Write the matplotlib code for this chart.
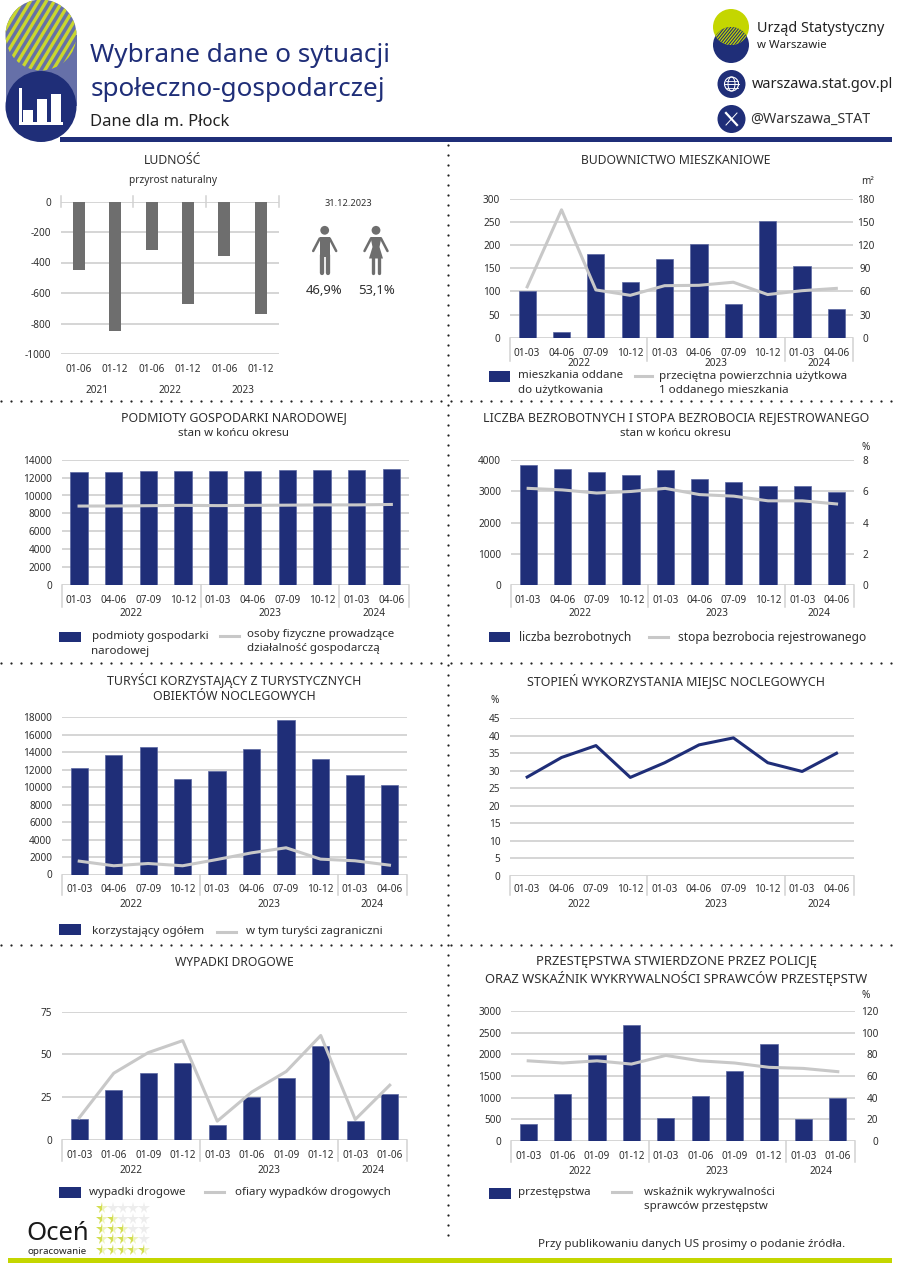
import numpy as np
import matplotlib
matplotlib.use("Agg")
import matplotlib.pyplot as plt
from matplotlib.patches import Circle, Rectangle, Polygon, Ellipse

plt.rcParams['font.family'] = ['Noto Sans', 'DejaVu Sans']
plt.rcParams['axes.unicode_minus'] = False

W, H = 900, 1273
NAVY = '#1F2E78'
EDGE = '#5A66A0'
GRID = '#D2D2D2'
LINE = '#C8C8C8'
TXT = '#2E2E2E'
LIME = '#C4D600'
GRAY = '#6E6E6E'

q_labels = ['01-03', '04-06', '07-09', '10-12', '01-03', '04-06', '07-09', '10-12', '01-03', '04-06']
cum_labels = ['01-03', '01-06', '01-09', '01-12', '01-03', '01-06', '01-09', '01-12', '01-03', '01-06']
half_labels = ['01-06', '01-12', '01-06', '01-12', '01-06', '01-12']
years_q = ['2022', '2023', '2024']
years_h = ['2021', '2022', '2023']

natural_increase = [-450, -850, -320, -675, -360, -740]
dwellings = [100, 13, 182, 120, 171, 203, 72, 252, 155, 62]
dwelling_area = [66, 166, 62, 55, 67.5, 68, 72, 56, 61, 64]
entities = [12600, 12650, 12700, 12750, 12750, 12780, 12800, 12850, 12900, 12950]
sole_traders = [8820, 8830, 8860, 8900, 8870, 8900, 8920, 8950, 8950, 9000]
unemployed = [3840, 3720, 3640, 3540, 3680, 3390, 3310, 3170, 3170, 2990]
unemp_rate = [6.2, 6.1, 5.9, 6.0, 6.2, 5.8, 5.7, 5.4, 5.4, 5.2]
tourists = [12150, 13700, 14650, 10900, 11900, 14350, 17700, 13200, 11400, 10250]
foreign = [1530, 1000, 1260, 1000, 1720, 2480, 3060, 1760, 1570, 1070]
occupancy = [28.2, 33.8, 37.2, 28.1, 32.3, 37.4, 39.4, 32.3, 29.8, 35.0]
accidents = [12, 29, 39, 45, 9, 25, 36, 55, 11, 27]
victims = [13, 39, 51, 58, 11, 28, 40, 61, 12, 32]
crimes = [390, 1075, 1975, 2670, 530, 1050, 1610, 2230, 515, 985]
detection = [74, 72, 74, 71, 79, 74, 72, 68, 67, 64]

fig = plt.figure(figsize=(W / 100, H / 100), dpi=100, facecolor='white')
bg = fig.add_axes([0, 0, 1, 1], zorder=0)
bg.set_xlim(0, W)
bg.set_ylim(H, 0)
bg.axis('off')


def text(x, y, s, size=8, ha='left', va='center', color=TXT, **kw):
    return bg.text(x, y, s, fontsize=size, ha=ha, va=va, color=color, **kw)


def panel(x0, x1, ytop, y0, n, xlabels, ylim, yticks, bars=None, line=None, line_right=None,
          right_ylim=None, right_ticks=None, groups=(4, 8), years=years_q,
          label_gap=14, year_gap=29, sep_depth=21, right_ha='center', right_off=12,
          line_color=LINE, line_lw=2.2):
    ax = fig.add_axes([x0 / W, 1 - y0 / H, (x1 - x0) / W, (y0 - ytop) / H], zorder=2)
    ax.patch.set_alpha(0)
    x = np.arange(n)
    ax.set_xlim(-0.5, n - 0.5)
    ax.set_ylim(*ylim)
    ax.set_yticks(yticks)
    ax.tick_params(axis='y', length=0, labelsize=7.2, labelcolor=TXT, pad=7)
    ax.set_xticks(x, xlabels)
    ax.tick_params(axis='x', length=0, labelsize=7.2, labelcolor=TXT, pad=(label_gap - 4) * 0.72)
    for s in ax.spines.values():
        s.set_visible(False)
    ax.grid(axis='y', color=GRID, lw=1.3, zorder=1)
    ax.set_axisbelow(True)
    if bars is not None:
        ax.bar(x, bars, width=0.5, color=NAVY, edgecolor=EDGE, lw=0.5, zorder=3)
    if line is not None:
        ax.plot(x, line, color=line_color, lw=line_lw, zorder=4, solid_joinstyle='round')
    h = y0 - ytop
    edges = [-0.5] + [g - 0.5 for g in groups] + [n - 0.5]
    tr = ax.get_xaxis_transform()
    for e in edges:
        ax.plot([e, e], [0, -sep_depth / h], transform=tr, color=GRID, lw=1.1, clip_on=False, zorder=1)
    for i, y in enumerate(years):
        c = (edges[i] + edges[i + 1]) / 2
        ax.text(c, -year_gap / h, y, transform=tr, ha='center', va='center', fontsize=7.2, color=TXT)
    if right_ticks is not None:
        r = ax.twinx()
        r.patch.set_alpha(0)
        r.set_zorder(ax.get_zorder() + 1)
        r.set_ylim(*right_ylim)
        r.set_yticks(right_ticks)
        r.tick_params(axis='y', length=0, labelsize=7.2, labelcolor=TXT, pad=right_off * 0.72)
        for lab in r.get_yticklabels():
            lab.set_ha(right_ha)
        for s in r.spines.values():
            s.set_visible(False)
        if line_right is not None:
            r.plot(x, line_right, color=line_color, lw=line_lw, zorder=4, solid_joinstyle='round')
    return ax


# ---------- dotted separators ----------
for yy in (401, 663, 945):
    xs = np.arange(1, 900, 10)
    bg.plot(xs, np.full_like(xs, yy), 'o', ms=1.6, color='#222222', mew=0)
ys = np.arange(145, 1240, 10)
bg.plot(np.full_like(ys, 448), ys, 'o', ms=1.6, color='#222222', mew=0)

# ---------- header ----------
PILL = '#6670A8'
bg.add_patch(Rectangle((5.5, 35), 71, 71, color=PILL, lw=0, zorder=1))
bg.add_patch(Circle((41, 35), 35.5, color=PILL, lw=0, zorder=1))
clip_top = Circle((41, 35), 35.5, transform=bg.transData)
for c in np.arange(-30, 130, 8):
    l, = bg.plot([c - 30, c + 30], [85, -15], color='#C9D72E', lw=2.4, zorder=2, solid_capstyle='butt')
    l.set_clip_path(clip_top)
bg.add_patch(Circle((41, 106.5), 35.5, color=NAVY, lw=0, zorder=3))
bg.add_patch(Rectangle((23, 110), 10, 13, color='white', lw=0, zorder=4))
bg.add_patch(Rectangle((37, 99), 10, 24, color='white', lw=0, zorder=4))
bg.add_patch(Rectangle((51, 94), 10, 29, color='white', lw=0, zorder=4))
bg.add_patch(Rectangle((19, 88), 3, 36, color='white', lw=0, zorder=4))
bg.add_patch(Rectangle((19, 122), 44, 2.5, color='white', lw=0, zorder=4))
bg.add_patch(Rectangle((60, 137), 832, 4.5, color=NAVY, lw=0, zorder=2))

text(90.5, 56, 'Wybrane dane o sytuacji', size=18.8, color=NAVY)
text(90.5, 89, 'społeczno-gospodarczej', size=18.8, color=NAVY)
text(90, 122, 'Dane dla m. Płock', size=12, color='#222222')

# logo: two circles, hatched overlap
bg.add_patch(Circle((731, 45), 18, color=NAVY, lw=0, zorder=1))
bg.add_patch(Circle((731, 27), 18, color=LIME, lw=0, zorder=2))
half = np.sqrt(18 ** 2 - 9 ** 2)
t = np.linspace(-half, half, 40)
lens = np.vstack([np.column_stack([731 + t, 45 - np.sqrt(18 ** 2 - t ** 2)]),
                  np.column_stack([731 + t[::-1], 27 + np.sqrt(18 ** 2 - t[::-1] ** 2)])])
lens_patch = Polygon(lens, closed=True, color=NAVY, lw=0, zorder=3)
bg.add_patch(lens_patch)
lens_clip = Polygon(lens, closed=True, transform=bg.transData)
for c in np.arange(690, 780, 3):
    l, = bg.plot([c, c + 24], [50, 20], color=LIME, lw=0.9, zorder=4, solid_capstyle='butt')
    l.set_clip_path(lens_clip)
text(757, 29, 'Urząd Statystyczny', size=10.4, color='#222222')
text(757, 46, 'w Warszawie', size=8.2, color='#222222')

bg.add_patch(Circle((731.5, 84), 14, color=NAVY, lw=0))
bg.add_patch(Circle((731.5, 84), 7, fill=False, ec='white', lw=0.8, zorder=3))
bg.add_patch(Ellipse((731.5, 84), 7, 14, fill=False, ec='white', lw=0.7, zorder=3))
bg.plot([724.5, 738.5], [84, 84], color='white', lw=0.7, zorder=3)
bg.plot([725.5, 737.5], [80.5, 80.5], color='white', lw=0.6, zorder=3)
bg.plot([725.5, 737.5], [87.5, 87.5], color='white', lw=0.6, zorder=3)
text(752, 85, 'warszawa.stat.gov.pl', size=10.45, color='#222222')
bg.add_patch(Circle((731.5, 119), 14, color=NAVY, lw=0))
bg.plot([726, 737], [113, 125], color='white', lw=1.6, zorder=3)
bg.plot([737, 726], [113, 125], color='white', lw=0.7, zorder=3)
text(750, 119, '@Warszawa_STAT', size=10.3, color='#333333')

# ---------- ludność ----------
ax = panel(60.5, 279, 201.5, 354, 6, half_labels, (-1000, 0), [0, -200, -400, -600, -800, -1000],
           groups=(2, 4), years=[], sep_depth=0, label_gap=14.5)
ax.bar(np.arange(6), natural_increase, width=0.33, color=GRAY, zorder=3)
h = 354 - 201.5
tr = ax.get_xaxis_transform()
for e in (-0.5, 1.5, 3.5, 5.5):
    ax.plot([e, e], [1 - 5.5 / h, 1 + 5.5 / h], transform=tr, color=GRID, lw=1.1, clip_on=False, zorder=2)
for c, y in zip((0.5, 2.5, 4.5), years_h):
    ax.text(c, -36.5 / h, y, transform=tr, ha='center', va='center', fontsize=7.2, color=TXT)
text(173, 161, 'LUDNOŚĆ', size=8.8, ha='center')
text(173, 181, 'przyrost naturalny', size=7.3, ha='center')
text(348.7, 204, '31.12.2023', size=6.6, ha='center')
text(324.3, 291, '46,9%', size=9.4, ha='center')
text(376.5, 291, '53,1%', size=9.4, ha='center')


def person(cx, female=False):
    c = GRAY
    bg.add_patch(Circle((cx, 230.3), 4.4, color=c, lw=0))
    bg.plot([cx - 11.5, cx - 5], [251, 238.5], color=c, lw=1.8, solid_capstyle='round')
    bg.plot([cx + 11.5, cx + 5], [251, 238.5], color=c, lw=1.8, solid_capstyle='round')
    if female:
        bg.add_patch(Polygon([[cx - 5.5, 237], [cx + 5.5, 237], [cx + 3.5, 247], [cx + 7, 258.5],
                              [cx - 7, 258.5], [cx - 3.5, 247]], closed=True, color=c, lw=0))
        for d in (-3.3, 3.3):
            bg.plot([cx + d, cx + d], [257, 272.5], color=c, lw=2.4, solid_capstyle='round')
    else:
        bg.add_patch(Rectangle((cx - 5, 237), 10, 20, color=c, lw=0))
        for d in (-2.8, 2.8):
            bg.plot([cx + d, cx + d], [255, 273], color=c, lw=3.1, solid_capstyle='round')


person(324.7)
person(376, female=True)

# ---------- budownictwo ----------
panel(510, 853.5, 199, 337.7, 10, q_labels, (0, 300), list(range(0, 301, 50)), bars=dwellings,
      line_right=dwelling_area, right_ylim=(0, 180), right_ticks=list(range(0, 181, 30)),
      label_gap=14, year_gap=26, sep_depth=23, right_off=12)
text(868, 182, 'm²', size=7.2, ha='center')
text(676, 161, 'BUDOWNICTWO MIESZKANIOWE', size=8.75, ha='center')
bg.add_patch(Rectangle((489, 371), 21, 11, color=NAVY, lw=0))
text(518, 376, 'mieszkania oddane', size=8.3)
text(518, 391, 'do użytkowania', size=8.3)
bg.plot([635, 652], [376, 376], color=LINE, lw=2.2)
text(659, 376, 'przeciętna powierzchnia użytkowa', size=8.4)
text(659, 391, '1 oddanego mieszkania', size=8.4)

# ---------- podmioty ----------
panel(61.7, 408.7, 459.7, 585, 10, q_labels, (0, 14000), list(range(0, 14001, 2000)), bars=entities,
      line=sole_traders, label_gap=14, year_gap=29, sep_depth=21.7)
text(234, 417.5, 'PODMIOTY GOSPODARKI NARODOWEJ', size=8.9, ha='center')
text(234, 433, 'stan w końcu okresu', size=8.25, ha='center')
bg.add_patch(Rectangle((59, 631.7), 22, 10.5, color=NAVY, lw=0))
text(91.5, 636.7, 'podmioty gospodarki', size=8.3)
text(91.5, 651.5, 'narodowej', size=8.3)
bg.plot([220, 239], [636, 636], color=LINE, lw=2.2)
text(247, 635, 'osoby fizyczne prowadzące', size=8.3)
text(247, 649, 'działalność gospodarczą', size=8.3)

# ---------- bezrobocie ----------
panel(511, 853.7, 460.3, 585, 10, q_labels, (0, 4000), list(range(0, 4001, 1000)), bars=unemployed,
      line_right=unemp_rate, right_ylim=(0, 8), right_ticks=[0, 2, 4, 6, 8],
      label_gap=14, year_gap=29, sep_depth=21.7, right_off=12)
text(866, 448, '%', size=7.2, ha='center')
text(676, 417.5, 'LICZBA BEZROBOTNYCH I STOPA BEZROBOCIA REJESTROWANEGO', size=8.95, ha='center')
text(675.7, 433, 'stan w końcu okresu', size=8.25, ha='center')
bg.add_patch(Rectangle((488.7, 631.7), 21.5, 10.5, color=NAVY, lw=0))
text(519, 637, 'liczba bezrobotnych', size=8.6)
bg.plot([649, 668], [636.7, 636.7], color=LINE, lw=2.2)
text(677.7, 637, 'stopa bezrobocia rejestrowanego', size=8.6)

# ---------- turyści ----------
panel(62, 406.7, 717.3, 874.5, 10, q_labels, (0, 18000), list(range(0, 18001, 2000)), bars=tourists,
      line=foreign, label_gap=13, year_gap=30, sep_depth=20)
text(234.5, 680.5, 'TURYŚCI KORZYSTAJĄCY Z TURYSTYCZNYCH', size=8.95, ha='center')
text(234.5, 697, 'OBIEKTÓW NOCLEGOWYCH', size=8.95, ha='center')
bg.add_patch(Rectangle((59, 924.3), 22, 10.7, color=NAVY, lw=0))
text(92, 931.5, 'korzystający ogółem', size=8.4)
bg.plot([217, 236], [931.7, 931.7], color=LINE, lw=2.2)
text(246, 931.5, 'w tym turyści zagraniczni', size=8.3)

# ---------- stopień wykorzystania ----------
panel(510, 853.7, 718.3, 875.7, 10, q_labels, (0, 45), list(range(0, 46, 5)), line=occupancy,
      line_color=NAVY, line_lw=2.2, label_gap=12, year_gap=29, sep_depth=19)
text(676, 680.5, 'STOPIEŃ WYKORZYSTANIA MIEJSC NOCLEGOWYCH', size=8.95, ha='center')
text(495, 700.7, '%', size=7.2, ha='center')

# ---------- wypadki ----------
panel(62, 407, 1011.5, 1140, 10, cum_labels, (0, 75), [0, 25, 50, 75], bars=accidents, line=victims,
      label_gap=14, year_gap=30.7, sep_depth=21)
text(234, 962, 'WYPADKI DROGOWE', size=8.75, ha='center')
bg.add_patch(Rectangle((59, 1186.7), 22, 10.8, color=NAVY, lw=0))
text(89, 1192, 'wypadki drogowe', size=8.3)
bg.plot([205, 224], [1192, 1192], color=LINE, lw=2.2)
text(235, 1192, 'ofiary wypadków drogowych', size=8.3)

# ---------- przestępstwa ----------
panel(511, 855, 1011, 1141, 10, cum_labels, (0, 3000), list(range(0, 3001, 500)), bars=crimes,
      line_right=detection, right_ylim=(0, 120), right_ticks=list(range(0, 121, 20)),
      label_gap=14, year_gap=31, sep_depth=20.7, right_ha='right', right_off=23)
text(866, 995, '%', size=7.2, ha='center')
text(676, 962, 'PRZESTĘPSTWA STWIERDZONE PRZEZ POLICJĘ', size=9.35, ha='center')
text(676, 978.5, 'ORAZ WSKAŹNIK WYKRYWALNOŚCI SPRAWCÓW PRZESTĘPSTW', size=9.35, ha='center')
bg.add_patch(Rectangle((489, 1188), 21.5, 10.8, color=NAVY, lw=0))
text(518, 1192, 'przestępstwa', size=8.3)
bg.plot([612, 631], [1192, 1192], color=LINE, lw=2.2)
text(644, 1192, 'wskaźnik wykrywalności', size=8.3)
text(644, 1207, 'sprawców przestępstw', size=8.3)

# ---------- footer ----------
bg.add_patch(Rectangle((8, 1258.3), 884, 4.5, color=LIME, lw=0))
text(26, 1234, 'Oceń', size=18.5, color='#1a1a1a')
text(27, 1252, 'opracowanie', size=7, color='#222222')
text(845, 1245, 'Przy publikowaniu danych US prosimy o podanie źródła.', size=8.4, ha='right')
star_x = [102, 112.5, 123, 133, 143.5]
star_y = [1208, 1218.5, 1229, 1239, 1250]
for r, yy in enumerate(star_y):
    for c, xx in enumerate(star_x):
        if c <= r:
            bg.plot(xx, yy, marker='*', ms=8.5, mew=0, color='#D3DE50', fillstyle='left',
                    markerfacecoloralt='#EDF2BE')
        else:
            bg.plot(xx, yy, marker='*', ms=8.5, mew=0, color='#EDEDED')

fig.savefig('out.png', dpi=100, facecolor='white')
